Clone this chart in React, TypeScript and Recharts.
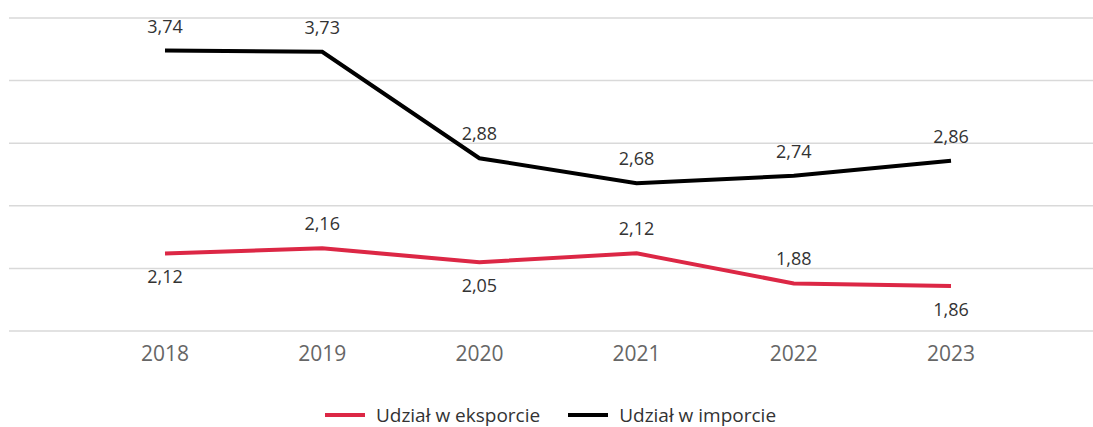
import React from 'react';
import { LineChart, Line, XAxis, YAxis, CartesianGrid, Legend } from 'recharts';

const years = ['2018', '2019', '2020', '2021', '2022', '2023'];
const exportShare = [2.12, 2.16, 2.05, 2.12, 1.88, 1.86];
const importShare = [3.74, 3.73, 2.88, 2.68, 2.74, 2.86];
const yTicks = [1.5, 2, 2.5, 3, 3.5, 4];

// where the red labels sit relative to their points
const exportLabelSide = ['below', 'above', 'below', 'above', 'above', 'below'];

const RED = '#dc2745';
const FONT = '"Open Sans", "Segoe UI", sans-serif';

const fmt = (v: number) => v.toFixed(2).replace('.', ',');

const data = years.map((year, i) => ({
    year,
    eksport: exportShare[i],
    import: importShare[i],
}));

const makeLabel = (sides: string[] | null) => (props: any) => {
    const { x, y, value, index } = props;
    const below = sides ? sides[index] === 'below' : false;
    return (
        <text
            x={x}
            y={below ? y + 23 : y - 25}
            textAnchor="middle"
            dominantBaseline="central"
            fontSize={18}
            fontFamily={FONT}
            fill="#333"
        >
            {fmt(value)}
        </text>
    );
};

const LegendContent = (props: any) => {
    const { payload = [] } = props;
    return (
        <div style={{ display: 'flex', justifyContent: 'center', gap: 28, fontFamily: FONT, fontSize: 19, color: '#333', lineHeight: '24px', height: 24, marginLeft: -1 }}>
            {payload.map((p: any) => (
                <div key={p.value} style={{ display: 'flex', alignItems: 'center' }}>
                    <span style={{ display: 'inline-block', width: 40, height: 4, background: p.color, marginRight: 11 }} />
                    <span>{p.value}</span>
                </div>
            ))}
        </div>
    );
};

export default function App() {
    return (
        <div style={{ position: 'absolute', left: 0, top: 0, width: 1093, height: 427, background: '#fff' }}>
            <LineChart width={1093} height={427} data={data} margin={{ top: 18, right: 0, left: 9, bottom: 0 }}>
                <CartesianGrid vertical={false} stroke="#d9d9d9" strokeWidth={1.5} />
                <XAxis
                    dataKey="year"
                    axisLine={false}
                    tickLine={false}
                    tickSize={0}
                    tickMargin={15}
                    height={72}
                    padding={{ left: 156, right: 142 }}
                    tick={{ fontSize: 21, fontFamily: FONT, fill: '#666' }}
                />
                <YAxis hide domain={[1.5, 4]} ticks={yTicks} />
                <Legend verticalAlign="bottom" height={24} content={<LegendContent />} />
                <Line
                    type="linear"
                    dataKey="eksport"
                    name="Udział w eksporcie"
                    stroke={RED}
                    strokeWidth={4}
                    dot={false}
                    activeDot={false}
                    isAnimationActive={false}
                    label={makeLabel(exportLabelSide)}
                />
                <Line
                    type="linear"
                    dataKey="import"
                    name="Udział w imporcie"
                    stroke="#000"
                    strokeWidth={4}
                    dot={false}
                    activeDot={false}
                    isAnimationActive={false}
                    label={makeLabel(null)}
                />
            </LineChart>
        </div>
    );
}
